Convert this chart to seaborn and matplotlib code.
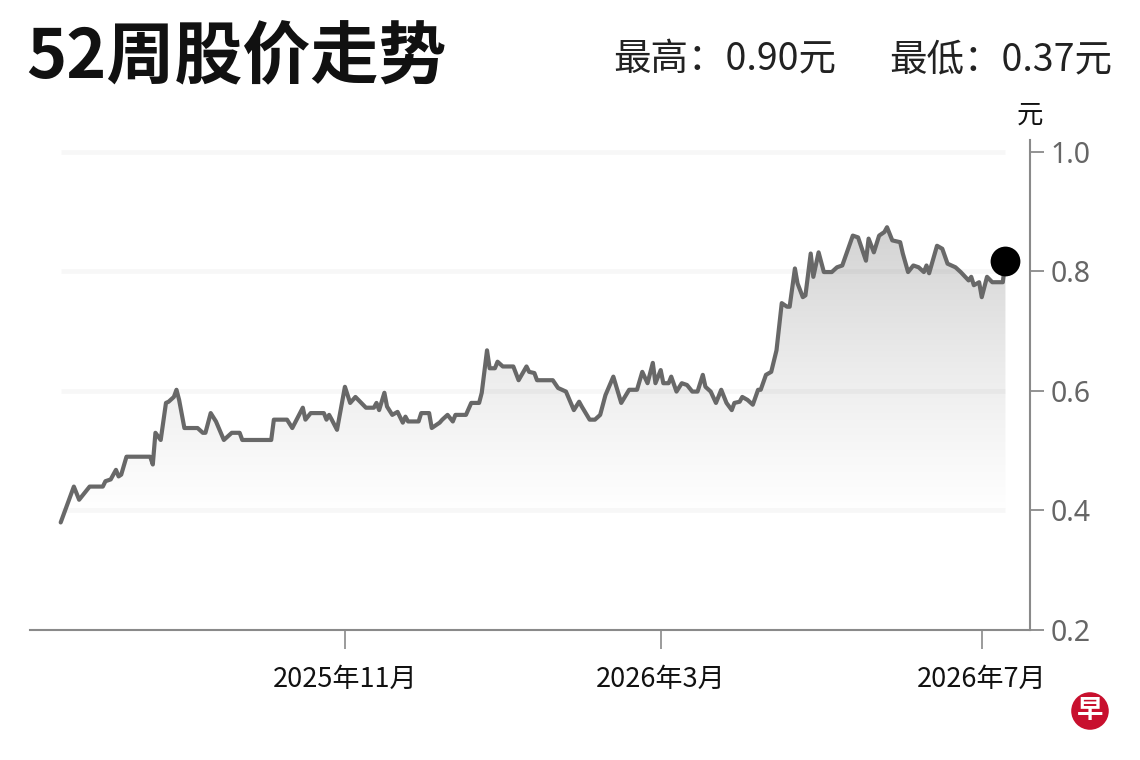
import numpy as np
import pandas as pd
import matplotlib
matplotlib.use("Agg")
import matplotlib.pyplot as plt
import matplotlib.dates as mdates
from matplotlib.colors import LinearSegmentedColormap
import seaborn as sns

# ---------------- data ----------------
start_date = "2025-07-16"
day_offsets = [0, 5, 7, 11, 16, 17, 19, 21, 22, 23, 25, 34, 35, 36, 38, 40, 41, 43, 44, 45,
               47, 52, 54, 55, 57, 59, 62, 65, 68, 69, 80, 81, 86, 88, 92, 93, 95, 100, 101, 102,
               103, 105, 108, 110, 112, 116, 119, 120, 121, 123, 124, 126, 128, 130, 131, 132, 136, 137, 140, 141,
               144, 145, 147, 149, 150, 154, 156, 159, 160, 162, 163, 165, 166, 168, 172, 174, 177, 178, 180, 181,
               187, 189, 192, 195, 197, 198, 201, 203, 205, 207, 210, 213, 216, 219, 221, 223, 225, 226, 228, 229,
               231, 232, 234, 236, 238, 240, 242, 244, 245, 247, 249, 251, 253, 255, 256, 258, 259, 261, 263, 265,
               266, 268, 270, 272, 274, 276, 277, 279, 280, 282, 283, 285, 286, 288, 290, 293, 295, 297, 301, 303,
               306, 307, 309, 311, 313, 314, 316, 319, 320, 322, 324, 326, 328, 329, 330, 333, 335, 337, 340, 342,
               345, 346, 347, 349, 350, 352, 354, 358, 359]
prices = [0.380, 0.440, 0.418, 0.440, 0.440, 0.449, 0.452, 0.468, 0.457, 0.460, 0.490, 0.490, 0.477, 0.530, 0.518, 0.580, 0.582, 0.590, 0.602, 0.585,
          0.538, 0.538, 0.530, 0.530, 0.563, 0.549, 0.518, 0.530, 0.530, 0.518, 0.518, 0.552, 0.552, 0.538, 0.572, 0.552, 0.563, 0.563, 0.552, 0.560,
          0.552, 0.535, 0.607, 0.580, 0.590, 0.572, 0.572, 0.580, 0.568, 0.597, 0.574, 0.560, 0.565, 0.547, 0.557, 0.549, 0.549, 0.563, 0.563, 0.538,
          0.547, 0.552, 0.560, 0.549, 0.560, 0.560, 0.580, 0.580, 0.597, 0.668, 0.638, 0.638, 0.649, 0.641, 0.641, 0.618, 0.641, 0.632, 0.630, 0.618,
          0.618, 0.605, 0.599, 0.568, 0.582, 0.574, 0.552, 0.552, 0.560, 0.593, 0.624, 0.580, 0.602, 0.602, 0.632, 0.613, 0.647, 0.613, 0.635, 0.613,
          0.613, 0.624, 0.599, 0.613, 0.610, 0.599, 0.599, 0.627, 0.607, 0.599, 0.580, 0.602, 0.580, 0.568, 0.580, 0.582, 0.590, 0.585, 0.577, 0.602,
          0.602, 0.627, 0.632, 0.668, 0.747, 0.741, 0.741, 0.805, 0.780, 0.757, 0.760, 0.830, 0.791, 0.832, 0.799, 0.799, 0.807, 0.810, 0.860, 0.857,
          0.818, 0.855, 0.832, 0.860, 0.866, 0.874, 0.852, 0.849, 0.830, 0.799, 0.810, 0.807, 0.799, 0.810, 0.797, 0.843, 0.838, 0.813, 0.807, 0.799,
          0.785, 0.791, 0.777, 0.782, 0.757, 0.791, 0.782, 0.782, 0.818]

tick_dates = ["2025-11-01", "2026-03-01", "2026-07-01"]
tick_labels = ["2025年11月", "2026年3月", "2026年7月"]
y_ticks = [0.2, 0.4, 0.6, 0.8, 1.0]
y_tick_labels = ["0.2", "0.4", "0.6", "0.8", "1.0"]
x_range = ["2025-07-04 08:00", "2026-07-19 08:00"]
y_range = [0.2, 1.02]
fade_level = 0.4

title_text = "52周股价走势"
high_text = "最高：0.90元"
low_text = "最低：0.37元"
unit_text = "元"
logo_text = "早"

# ---------------- style ----------------
sns.set_theme(style="white")
plt.rcParams["font.family"] = ["Noto Sans CJK SC", "DejaVu Sans"]

df = pd.DataFrame({
    "date": pd.Timestamp(start_date) + pd.to_timedelta(day_offsets, unit="D"),
    "price": prices,
})

fig = plt.figure(figsize=(11.4, 7.6), dpi=100)
fig.patch.set_facecolor("white")
ax = fig.add_axes([30 / 1140, 130 / 760, 1000 / 1140, 490 / 760])
ax.set_facecolor("white")

d0, d1 = df["date"].iloc[0], df["date"].iloc[-1]

# gradient area under the line
poly = ax.fill_between(df["date"], df["price"], y_range[0], color="none", lw=0)
cmap = LinearSegmentedColormap.from_list("g", ["#ffffff", "#ececec", "#d3d3d3"])
grad = np.linspace(0, 1, 256).reshape(-1, 1)
xn0, xn1 = mdates.date2num(d0), mdates.date2num(d1)
im = ax.imshow(grad, extent=[xn0, xn1, fade_level, max(prices)], origin="lower",
               aspect="auto", cmap=cmap, zorder=1, interpolation="bilinear")
im.set_clip_path(poly.get_paths()[0], transform=ax.transData)

# faint horizontal gridlines spanning the data range (drawn over the fill)
ax.hlines(y_ticks[1:], d0, d1, colors="black", alpha=0.03, lw=3.5, zorder=2)

# price line
sns.lineplot(data=df, x="date", y="price", color="#686868", lw=3.0,
             estimator=None, ax=ax, zorder=3)
# last-price marker
ax.scatter([d1], [df["price"].iloc[-1]], s=460, color="black", zorder=5, linewidths=0)

ax.set_xlim(pd.Timestamp(x_range[0]), pd.Timestamp(x_range[1]))
ax.set_ylim(*y_range)
ax.set_xlabel("")
ax.set_ylabel("")

# axes / spines
for s in ["left", "top"]:
    ax.spines[s].set_visible(False)
for s in ["right", "bottom"]:
    ax.spines[s].set_visible(True)
    ax.spines[s].set_color("#8a8a8a")
    ax.spines[s].set_linewidth(1.5)

ax.yaxis.tick_right()
ax.set_yticks(y_ticks)
ax.set_yticklabels(y_tick_labels, fontfamily="Noto Sans")
ax.tick_params(axis="y", which="major", right=True, left=False, direction="out",
               length=10, width=1.3, color="#8a8a8a", labelsize=20.5,
               labelcolor="#666666", pad=5)

ax.set_xticks(pd.to_datetime(tick_dates))
ax.set_xticklabels(tick_labels)
ax.tick_params(axis="x", which="major", bottom=True, direction="out", length=14,
               width=1.2, color="#8a8a8a", labelsize=19.5, labelcolor="#111111", pad=12)
ax.grid(False)

# unit label above the axis
ax.text(1.0, 1.051, unit_text, transform=ax.transAxes, ha="center", va="center",
        fontsize=19, color="#111111")

# header texts
fig.text(26 / 1140, 1 - 59 / 760, title_text, fontsize=49, fontweight="bold",
         ha="left", va="center", color="#111111")
fig.text(613 / 1140, 1 - 60 / 760, high_text, fontsize=27, ha="left", va="center",
         color="#222222")
fig.text(1112 / 1140, 1 - 60 / 760, low_text, fontsize=27, ha="right", va="center",
         color="#222222")

# logo
fig.text(1090 / 1140, 1 - 711 / 760, logo_text, fontsize=19, fontweight="bold",
         color="white", ha="center", va="center",
         bbox=dict(boxstyle="circle,pad=0.2", fc="#c8102e", ec="none"))

fig.savefig("out.png", dpi=100, facecolor="white")
